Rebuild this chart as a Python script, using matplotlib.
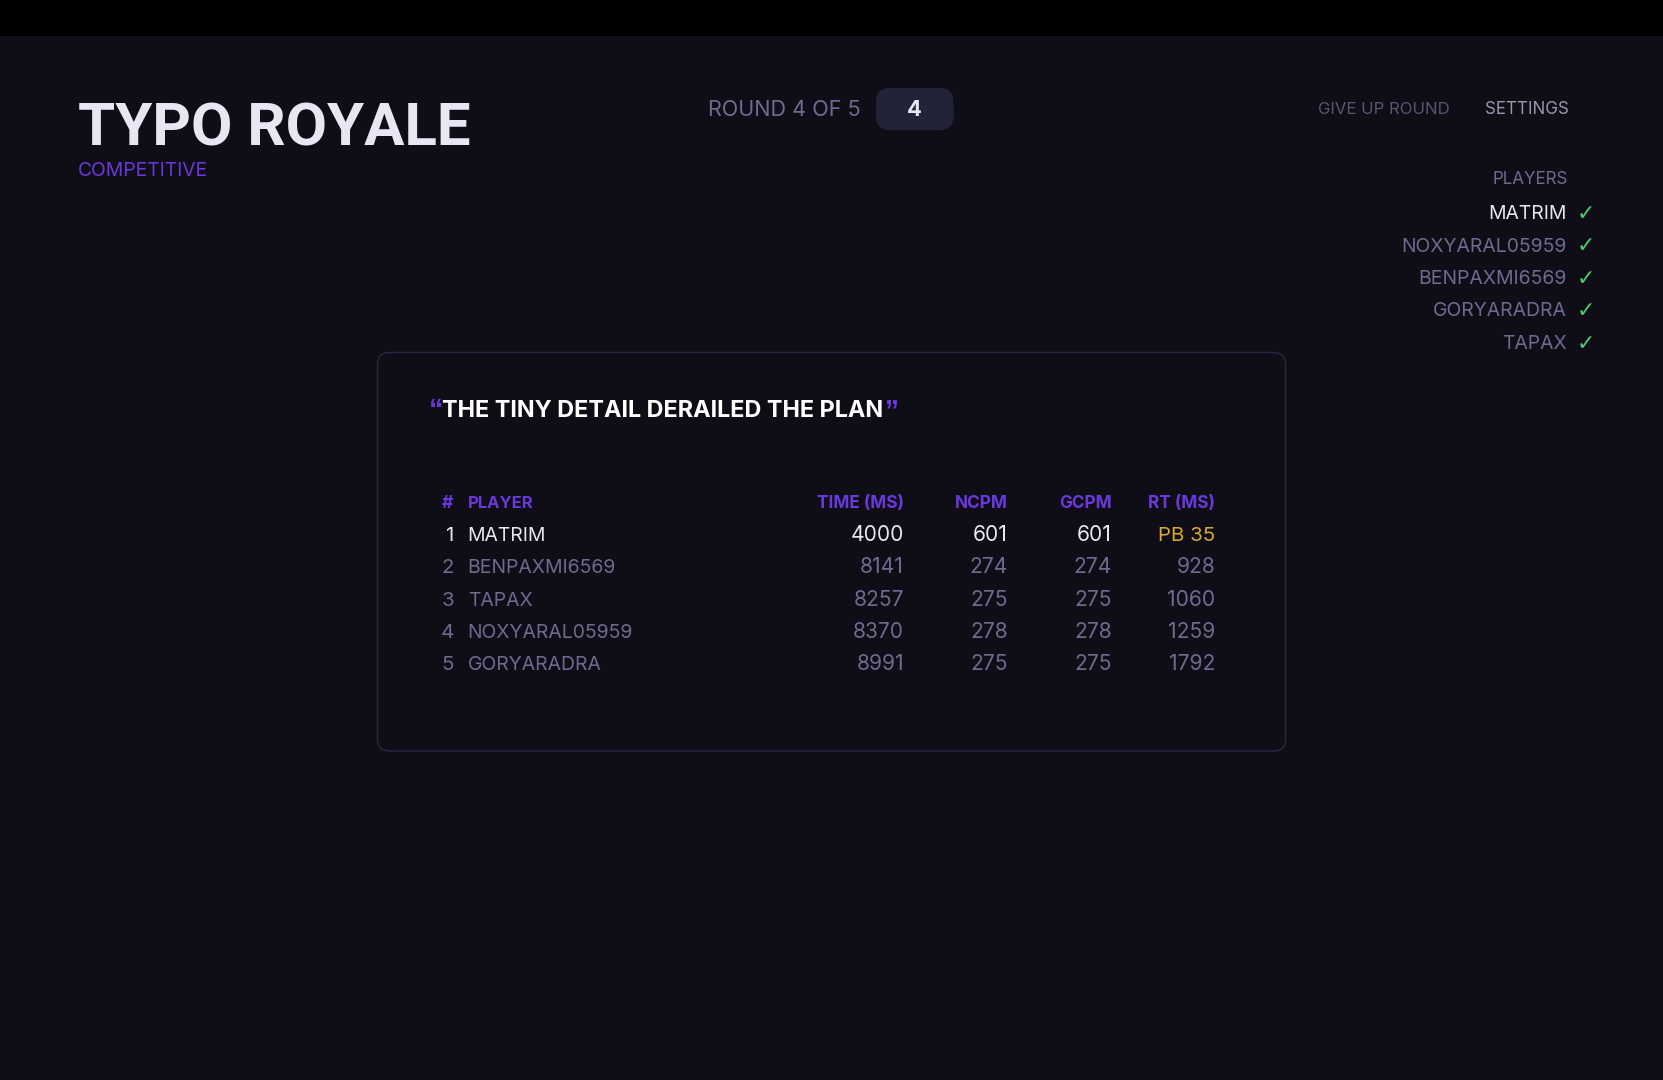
import matplotlib
matplotlib.use("Agg")
import matplotlib.pyplot as plt
from matplotlib.patches import FancyBboxPatch, Rectangle

plt.rcParams['font.family'] = ['Inter', 'DejaVu Sans']

# table data
ranks = ["1", "2", "3", "4", "5"]
players = ["MATRIM", "BENPAXMI6569", "TAPAX", "NOXYARAL05959", "GORYARADRA"]
times = [4000, 8141, 8257, 8370, 8991]
ncpm = [601, 274, 275, 278, 275]
gcpm = [601, 274, 275, 278, 275]
rt = ["PB 35", "928", "1060", "1259", "1792"]
headers = ["TIME (MS)", "NCPM", "GCPM", "RT (MS)"]
side_players = ["MATRIM", "NOXYARAL05959", "BENPAXMI6569", "GORYARADRA", "TAPAX"]

BG = "#0f0e17"
WHITE = "#e8e6f2"
MUTED = "#6f6a90"
DIM = "#585472"
PURPLE = "#6a38dc"
GOLD = "#d8a735"
GREEN = "#4fc974"
BORDER = "#262640"

fig = plt.figure(figsize=(16.63, 10.8), dpi=100, facecolor=BG)
ax = fig.add_axes([0, 0, 1, 1])
ax.set_xlim(0, 1663)
ax.set_ylim(1080, 0)
ax.axis("off")


def px(size):
    return size * 0.72


def txt(x, y, s, size, color, ha="left", weight="normal", family=None):
    return ax.text(x, y, s, fontsize=px(size), color=color, ha=ha, va="baseline",
                   fontweight=weight, family=family)


# top band
ax.add_patch(Rectangle((0, 0), 1663, 36, fc="black", ec="none"))

# header
txt(78, 146, "TYPO ROYALE", 60, WHITE, weight="bold", family="Roboto")
txt(78, 176.5, "COMPETITIVE", 19.3, PURPLE)
txt(708, 116, "ROUND 4 OF 5", 21.6, MUTED)
ax.add_patch(FancyBboxPatch((882, 94), 65.5, 30, boxstyle="round,pad=0,rounding_size=7",
                            fc="#222238", ec="#222238", lw=12 * 0.72, joinstyle="round"))
txt(914, 116.5, "4", 22, WHITE, ha="center", weight="bold")
txt(1318, 114, "GIVE UP ROUND", 16.7, DIM)
txt(1569, 114, "SETTINGS", 17, "#9a97ad", ha="right")

# player list
txt(1568, 184.5, "PLAYERS", 17, MUTED, ha="right")
for i, name in enumerate(side_players):
    y = 219 + i * 32.5
    txt(1566.5, y, name, 19.4, WHITE if i == 0 else MUTED, ha="right")
    txt(1586, y + 1, "\u2713", 22, GREEN, ha="center", weight="bold", family="DejaVu Sans")

# card
ax.add_patch(FancyBboxPatch((377.5, 352.5), 908, 398.5, boxstyle="round,pad=0,rounding_size=12",
                            fc=BG, ec=BORDER, lw=1.0))

txt(429, 418, "\u201c", 28, PURPLE, weight="bold", family="Liberation Sans")
txt(442, 416.7, "THE TINY DETAIL DERAILED THE PLAN", 23.4, "#ffffff", weight="bold")
txt(885, 418, "\u201d", 28, PURPLE, weight="bold", family="Liberation Sans")

# table
right_x = [904, 1008, 1112, 1215.5]
txt(453, 508.5, "#", 17.5, PURPLE, ha="right", weight="bold")
txt(467.7, 508.5, "PLAYER", 16.5, PURPLE, weight="bold")
for x, h in zip(right_x, headers):
    txt(x, 508.5, h, 17.2, PURPLE, ha="right", weight="bold")

for i in range(len(players)):
    y = 540.7 + i * 32.4
    c = WHITE if i == 0 else MUTED
    txt(454, y, ranks[i], 20.5, c, ha="right")
    txt(467.7, y, players[i], 19.4, c)
    txt(right_x[0], y, str(times[i]), 21, c, ha="right")
    txt(right_x[1], y, str(ncpm[i]), 21, c, ha="right")
    txt(right_x[2], y, str(gcpm[i]), 21, c, ha="right")
    txt(right_x[3], y, rt[i], 21 if i else 20.5, GOLD if i == 0 else c, ha="right")

fig.savefig("out.png", dpi=100, facecolor=BG)
